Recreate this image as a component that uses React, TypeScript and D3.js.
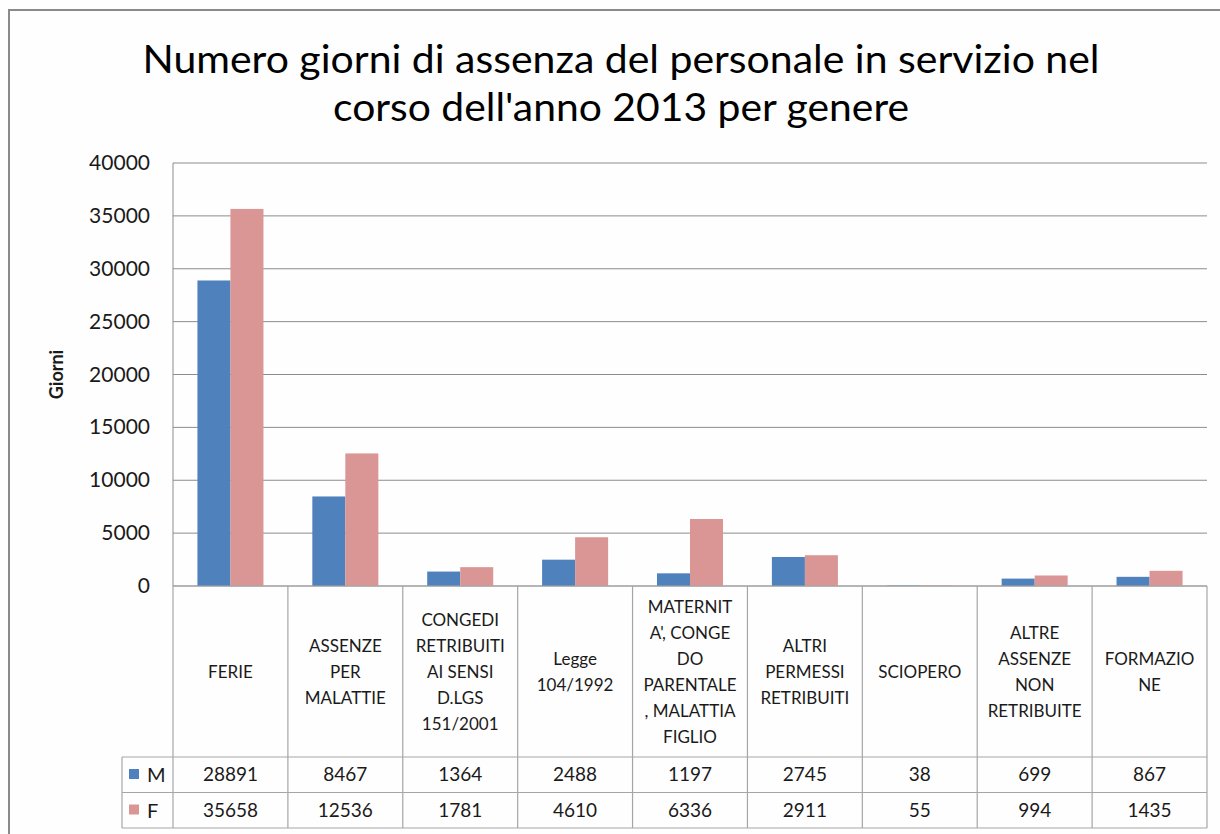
import * as React from 'react';
import * as d3 from 'd3';

const categoryLines: string[][] = [
  ['FERIE'],
  ['ASSENZE', 'PER', 'MALATTIE'],
  ['CONGEDI', 'RETRIBUITI', 'AI SENSI', 'D.LGS', '151/2001'],
  ['Legge', '104/1992'],
  ['MATERNIT', "A', CONGE", 'DO', 'PARENTALE', ', MALATTIA', 'FIGLIO'],
  ['ALTRI', 'PERMESSI', 'RETRIBUITI'],
  ['SCIOPERO'],
  ['ALTRE', 'ASSENZE', 'NON', 'RETRIBUITE'],
  ['FORMAZIO', 'NE'],
];

const seriesNames = ['M', 'F'];
const valuesM = [28891, 8467, 1364, 2488, 1197, 2745, 38, 699, 867];
const valuesF = [35658, 12536, 1781, 4610, 6336, 2911, 55, 994, 1435];
const yTicks = [0, 5000, 10000, 15000, 20000, 25000, 30000, 35000, 40000];

const titleLines = [
  'Numero giorni di assenza del personale in servizio nel',
  "corso dell'anno 2013 per genere",
];

const colors: Record<string, string> = { M: '#4F81BD', F: '#D99694' };
const font = 'Lato, "Open Sans", sans-serif';

const App = () => {
  const width = 1220;
  const height = 834;
  const plot = { left: 173, right: 1207, top: 163, bottom: 586 };
  const tableLeft = 122;
  const catRowBottom = 757;
  const rowH = 35.5;

  const idx = categoryLines.map((_, i) => String(i));
  const x = d3.scaleBand<string>().domain(idx).range([plot.left, plot.right]);
  const xs = d3
    .scaleBand<string>()
    .domain(seriesNames)
    .range([0, x.bandwidth()])
    .paddingOuter(0.74);
  const y = d3.scaleLinear().domain([0, 40000]).range([plot.bottom, plot.top]);

  const series: Record<string, number[]> = { M: valuesM, F: valuesF };
  const grid = '#8c8c8c';
  const tableLine = '#a6a6a6';
  const ink = '#1a1a1a';

  return (
    <svg width={width} height={height} style={{ display: 'block', position: 'absolute', left: 0, top: 0 }}>
      <rect x={0} y={0} width={width} height={height} fill="#fefefe" />
      <rect x={9} y={10} width={width + 20} height={height + 20} fill="#fefefe" stroke="#8a8a8a" strokeWidth={2} />

      {titleLines.map((t, i) => (
        <text
          key={i}
          x={621}
          y={73 + i * 48}
          textAnchor="middle"
          fontFamily={font}
          fontSize={38}
          fill="#000"
          textLength={i === 0 ? 957 : 576}
          lengthAdjust="spacingAndGlyphs"
        >
          {t}
        </text>
      ))}

      {/* gridlines */}
      {yTicks.map((t) => (
        <g key={t}>
          <line x1={plot.left} x2={plot.right} y1={y(t)} y2={y(t)} stroke={grid} strokeWidth={1} />
          <text x={150} y={y(t) + 7} textAnchor="end" fontFamily={font} fontSize={21} fill={ink}>
            {t}
          </text>
        </g>
      ))}
      <line x1={plot.left} x2={plot.left} y1={plot.top} y2={plot.bottom} stroke={grid} />

      <text
        transform={`translate(63, ${(plot.top + plot.bottom) / 2}) rotate(-90)`}
        textAnchor="middle"
        fontFamily={font}
        fontSize={18}
        fontWeight="bold"
        fill={ink}
      >
        Giorni
      </text>

      {/* bars */}
      {idx.map((c, i) => (
        <g key={c} transform={`translate(${x(c)},0)`}>
          {seriesNames.map((s) => (
            <rect
              key={s}
              x={xs(s)}
              y={y(series[s][i])}
              width={xs.bandwidth()}
              height={plot.bottom - y(series[s][i])}
              fill={colors[s]}
            />
          ))}
        </g>
      ))}

      {/* data table */}
      <g stroke={tableLine} strokeWidth={1.2} fill="none">
        <line x1={plot.left} x2={plot.right} y1={plot.bottom} y2={plot.bottom} />
        {idx.map((c) => (
          <line key={c} x1={x(c)} x2={x(c)} y1={plot.bottom} y2={catRowBottom + rowH * 2} />
        ))}
        <line x1={plot.right} x2={plot.right} y1={plot.bottom} y2={catRowBottom + rowH * 2} />
        <line x1={tableLeft} x2={tableLeft} y1={catRowBottom} y2={catRowBottom + rowH * 2} />
        {[0, 1, 2].map((r) => (
          <line key={r} x1={tableLeft} x2={plot.right} y1={catRowBottom + rowH * r} y2={catRowBottom + rowH * r} />
        ))}
      </g>

      {categoryLines.map((lines, i) => {
        const cx = (x(String(i)) as number) + x.bandwidth() / 2;
        const cy = (plot.bottom + catRowBottom) / 2;
        const lh = 26;
        const start = cy - ((lines.length - 1) * lh) / 2 + 6;
        return (
          <text key={i} textAnchor="middle" fontFamily={font} fontSize={17} fill={ink}>
            {lines.map((l, j) => (
              <tspan key={j} x={cx} y={start + j * lh}>
                {l}
              </tspan>
            ))}
          </text>
        );
      })}

      {seriesNames.map((s, r) => {
        const rowY = catRowBottom + rowH * r;
        return (
          <g key={s}>
            <rect x={129} y={rowY + 12} width={10} height={10} fill={colors[s]} />
            <text x={147} y={rowY + 25} fontFamily={font} fontSize={20} fill={ink}>
              {s}
            </text>
            {series[s].map((v, i) => (
              <text
                key={i}
                x={(x(String(i)) as number) + x.bandwidth() / 2}
                y={rowY + 24}
                textAnchor="middle"
                fontFamily={font}
                fontSize={19}
                fill={ink}
              >
                {v}
              </text>
            ))}
          </g>
        );
      })}
    </svg>
  );
};

export default App;
